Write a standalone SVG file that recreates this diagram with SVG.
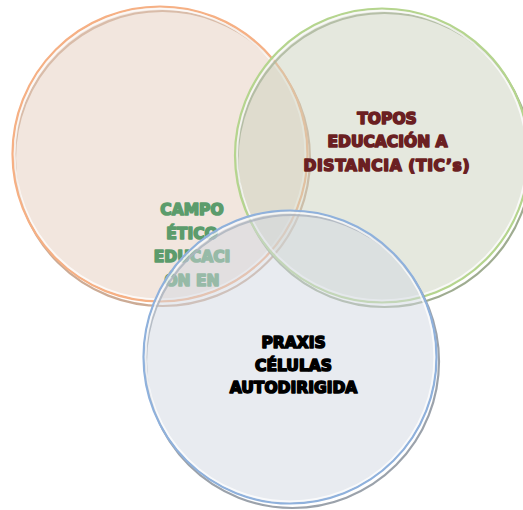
<svg xmlns="http://www.w3.org/2000/svg" width="523" height="510" viewBox="0 0 523 510">
<style>
.ring{stroke-width:2.2}
.gap{fill:none;stroke:#ffffff;stroke-width:1.8;stroke-opacity:0.75}
.shadow{fill:none;stroke-width:2.2;stroke-opacity:0.85}
.lbl{font-family:"DejaVu Sans","Liberation Sans",sans-serif;font-weight:bold;font-size:15.5px;text-anchor:middle;stroke-width:1.6;stroke-linejoin:round;paint-order:stroke fill}
.green{fill:#5C9C6C;stroke:#5C9C6C}
.red{fill:#6B1F22;stroke:#6B1F22}
.black{fill:#000000;stroke:#000000}
</style>
<rect width="523" height="510" fill="#ffffff"/>
<g id="node-campo-etico">
  <circle class="shadow" cx="162.5" cy="158.5" r="147.5" stroke="#C39C82"/>
  <circle class="ring" cx="160" cy="154" r="147.5" fill="#E5CDBD" fill-opacity="0.5" stroke="#F6B084"/>
  <circle class="gap" cx="160" cy="154" r="145.3"/>
</g>
<g id="node-topos">
  <circle class="shadow" cx="384.5" cy="160" r="147" stroke="#8E9E7E"/>
  <circle class="ring" cx="382" cy="155.5" r="147" fill="#CBD1BD" fill-opacity="0.5" stroke="#B5D58E"/>
  <circle class="gap" cx="382" cy="155.5" r="144.8"/>
  <text class="lbl red" x="387" y="123.5">TOPOS</text>
  <text class="lbl red" x="387.5" y="147">EDUCACIÓN A</text>
  <text class="lbl red" x="386.5" y="171" textLength="166" lengthAdjust="spacing">DISTANCIA (TIC’s)</text>
</g>
<g id="label-campo">
  <text class="lbl green" x="192" y="215">CAMPO</text>
  <text class="lbl green" x="192" y="238.5">ÉTICO</text>
  <text class="lbl green" x="192" y="262">EDUCACI</text>
  <text class="lbl green" x="192" y="285.5">ÓN EN</text>
</g>
<g id="node-praxis">
  <circle class="shadow" cx="292.5" cy="361.5" r="146.5" stroke="#8A929C"/>
  <circle class="ring" cx="290" cy="357" r="146.5" fill="#D1D7E1" fill-opacity="0.5" stroke="#8FB1DC"/>
  <circle class="gap" cx="290" cy="357" r="144.3"/>
  <text class="lbl black" x="293.5" y="348">PRAXIS</text>
  <text class="lbl black" x="293.5" y="370.7">CÉLULAS</text>
  <text class="lbl black" x="293.5" y="393.3">AUTODIRIGIDA</text>
</g>
<g id="connectors"/>
</svg>
